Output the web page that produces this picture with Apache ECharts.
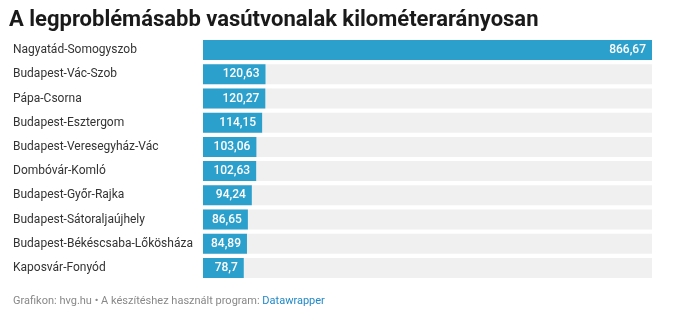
<!DOCTYPE html>
<html>
<head>
<meta charset="utf-8">
<script src="https://cdn.jsdelivr.net/npm/echarts@6/dist/echarts.min.js"></script>
<style>
  html, body { margin: 0; padding: 0; background: #fff; }
  #chart { width: 681px; height: 333px; }
</style>
</head>
<body>
<div id="chart"></div>
<script>
// Railway lines, ordered from the top of the chart downwards
const lines = [
  'Nagyatád-Somogyszob',
  'Budapest-Vác-Szob',
  'Pápa-Csorna',
  'Budapest-Esztergom',
  'Budapest-Veresegyház-Vác',
  'Dombóvár-Komló',
  'Budapest-Győr-Rajka',
  'Budapest-Sátoraljaújhely',
  'Budapest-Békéscsaba-Lőkösháza',
  'Kaposvár-Fonyód'
];
const ratios = [866.67, 120.63, 120.27, 114.15, 103.06, 102.63, 94.24, 86.65, 84.89, 78.7];

const chart = echarts.init(document.getElementById('chart'), null, { renderer: 'canvas' });

const fmt = v => String(v).replace('.', ',');

chart.setOption({
  animation: false,
  backgroundColor: '#ffffff',
  textStyle: { fontFamily: 'Roboto' },
  title: [
    {
      text: 'A legproblémásabb vasútvonalak kilométerarányosan',
      left: 9, top: 9, padding: 0,
      textStyle: { fontFamily: 'Roboto', fontWeight: 'bold', fontSize: 22, color: '#1a1a1a' }
    },
    {
      text: '{g|Grafikon: hvg.hu • A készítéshez használt program: }{b|Datawrapper}',
      left: 13, top: 296, padding: 0,
      textStyle: {
        fontWeight: 'normal',
        rich: {
          g: { fontFamily: 'Roboto', fontWeight: 'normal', fontSize: 11, color: '#888888' },
          b: { fontFamily: 'Roboto', fontWeight: 'normal', fontSize: 11, color: '#1f88c8' }
        }
      }
    }
  ],
  grid: { left: 203, right: 29, top: 38, height: 242, containLabel: false },
  xAxis: {
    type: 'value', min: 0, max: 866.67,
    show: false
  },
  yAxis: {
    type: 'category',
    data: lines,
    inverse: true,
    axisLine: { show: false },
    axisTick: { show: false },
    splitLine: { show: false },
    axisLabel: {
      align: 'left',
      margin: 190,
      fontFamily: 'Roboto',
      fontSize: 12,
      color: '#333333'
    }
  },
  series: [{
    type: 'bar',
    data: ratios,
    barWidth: 20,
    itemStyle: { color: '#2ca0cd' },
    showBackground: true,
    backgroundStyle: { color: '#f0f0f0' },
    label: {
      show: true,
      position: 'insideRight',
      distance: 6,
      color: '#ffffff',
      fontFamily: 'Roboto',
      fontWeight: 500,
      fontSize: 12,
      formatter: p => fmt(p.value)
    }
  }]
});
</script>
</body>
</html>
